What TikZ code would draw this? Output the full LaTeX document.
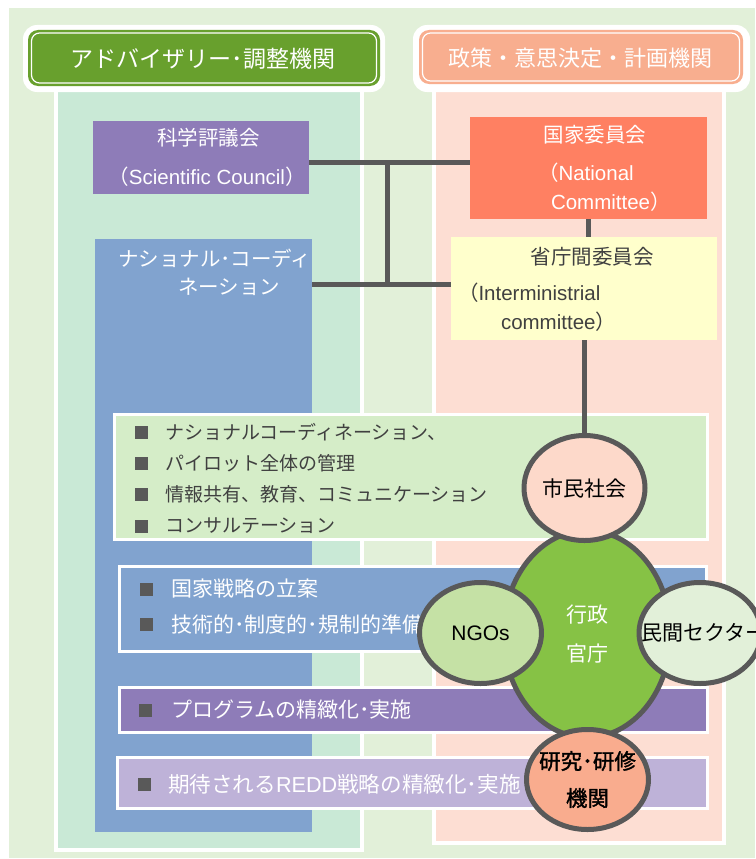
\documentclass[tikz,border=0pt]{standalone}
\usepackage{fontspec}
\setmainfont{Noto Sans CJK JP}
\newfontfamily\lat{Liberation Sans}
\newfontfamily\jpbold[FakeBold=1.5]{Noto Sans CJK JP}
\usetikzlibrary{shapes.geometric}
\definecolor{bggreen}{HTML}{E2F0D9}
\definecolor{tealcol}{HTML}{C9E9D6}
\definecolor{pinkcol}{HTML}{FDDED3}
\definecolor{hdrgreen}{HTML}{68A02D}
\definecolor{hdrsalmon}{HTML}{F8AE8F}
\definecolor{purp}{HTML}{8E7CB8}
\definecolor{blu}{HTML}{81A3CF}
\definecolor{coral}{HTML}{FF8062}
\definecolor{yelw}{HTML}{FFFFCC}
\definecolor{bonegreen}{HTML}{D5EDC8}
\definecolor{lav}{HTML}{BEB2D8}
\definecolor{govgreen}{HTML}{86C245}
\definecolor{ngogreen}{HTML}{C5E1A5}
\definecolor{privgreen}{HTML}{E2F0D9}
\definecolor{civpink}{HTML}{FDD9CA}
\definecolor{ressalmon}{HTML}{F9AC8E}
\definecolor{linegray}{HTML}{595959}
\definecolor{txtgray}{HTML}{404040}
\begin{document}
\begin{tikzpicture}[x=1pt,y=-1pt,
  every node/.style={inner sep=0pt,outer sep=0pt},
  colbox/.style={draw=white,line width=4pt,rectangle},
  plainbox/.style={rectangle},
  bulbox/.style={draw=white,line width=3pt,rectangle},
  bul/.style={fill=linegray,minimum size=13pt},
  conn/.style={draw=linegray,line width=5pt},
  orb/.style={ellipse,draw=linegray,line width=5pt},
  hdtxt/.style={text=white,font=\fontsize{23}{23}\selectfont},
  tt/.style={font=\fontsize{20.5}{20.5}\selectfont},
  bt/.style={font=\fontsize{21}{21}\selectfont,anchor=west},
  bts/.style={font=\fontsize{19}{19}\selectfont,anchor=west},
  ct/.style={font=\fontsize{21}{39}\selectfont,align=center}]
\useasboundingbox (0,0) rectangle (755,859);
\fill[white] (0,0) rectangle (755,859);
\fill[bggreen] (9,8) rectangle (755,858);
% columns
\node[colbox,fill=tealcol,minimum width=306pt,minimum height=760pt] (lcol) at (209,470) {};
\node[colbox,fill=pinkcol,minimum width=290pt,minimum height=753pt] (rcol) at (579,466.5) {};
% headers
\node[fill=white,rounded corners=14pt,minimum width=362pt,minimum height=67pt] (lhw) at (204,58.5) {};
\node[fill=hdrgreen,rounded corners=10pt,minimum width=352pt,minimum height=56pt] (lhg) at (204,58) {};
\node[draw=white,line width=1.2pt,rounded corners=8pt,minimum width=345pt,minimum height=50pt] (lhl) at (204,58) {};
\node[hdtxt] (lht) at (203,59) {アドバイザリー･調整機関};
\node[fill=white,rounded corners=14pt,minimum width=337pt,minimum height=67pt] (rhw) at (581.5,58.5) {};
\node[fill=hdrsalmon,rounded corners=10pt,minimum width=324pt,minimum height=54pt] (rhg) at (581,57) {};
\node[draw=white,line width=1.2pt,rounded corners=8pt,minimum width=317pt,minimum height=48pt] (rhl) at (581,57) {};
\node[hdtxt,font=\fontsize{22}{22}\selectfont] (rht) at (580,58) {政策・意思決定・計画機関};
% main boxes
\node[plainbox,fill=purp,minimum width=216pt,minimum height=73pt] (sci) at (201,157.5) {};
\node[plainbox,fill=blu,minimum width=217pt,minimum height=593pt] (ncb) at (203.5,535.5) {};
\node[plainbox,fill=coral,minimum width=237pt,minimum height=102pt] (nc) at (588.5,168) {};
\node[plainbox,fill=yelw,minimum width=266pt,minimum height=103pt] (yel) at (584,288.5) {};
\node[tt,text=white] (scit1) at (208.5,138) {科学評議会};
\node[tt,text=white] (scit2) at (207,177) {（{\lat Scientific Council}）};
\node[tt,text=white,anchor=west] (ncbt1) at (118,259) {ナショナル･コーディ};
\node[tt,text=white,anchor=west] (ncbt2) at (178,287) {ネーション};
\node[tt,text=white] (nct1) at (595,135) {国家委員会};
\node[tt,text=white,anchor=west] (nct2) at (538,173) {（{\lat National}};
\node[tt,text=white,anchor=west] (nct3) at (551,202) {{\lat Committee}）};
\node[tt,text=txtgray] (yelt1) at (592,257) {省庁間委員会};
\node[tt,text=txtgray,anchor=west] (yelt2) at (458,293) {（{\lat Interministrial}};
\node[tt,text=txtgray,anchor=west] (yelt3) at (501,322) {{\lat committee}）};
% connectors
\coordinate (j1) at (387,162);
\coordinate (j2) at (387,284);
\draw[conn] (sci.east |- j1) -- (nc.west |- j1);
\draw[conn] (j1) -- (j2);
\draw[conn] (ncb.east |- j2) -- (yel.west |- j2);
\draw[conn] (nc.south) -- (nc.south |- yel.north);
% bullet boxes
\node[bulbox,fill=bonegreen,minimum width=593pt,minimum height=125pt] (b1) at (411,477) {};
\node[bulbox,fill=blu,minimum width=587pt,minimum height=85pt] (b2) at (413,609) {};
\node[bulbox,fill=purp,minimum width=588pt,minimum height=45pt] (b3) at (413.5,710) {};
\node[bulbox,fill=lav,minimum width=590pt,minimum height=51pt] (b4) at (412.5,783) {};
\node[bul] (q1) at (141,432) {};
\node[bul] (q2) at (141,463) {};
\node[bul] (q3) at (141,494.5) {};
\node[bul] (q4) at (141,526) {};
\node[bts,text=txtgray] (t1) at (165,432) {ナショナルコーディネーション、};
\node[bts,text=txtgray] (t2) at (165,463) {パイロット全体の管理};
\node[bts,text=txtgray] (t3) at (165,494.5) {情報共有、教育、コミュニケーション};
\node[bts,text=txtgray] (t4) at (165,526) {コンサルテーション};
\node[bul] (q5) at (146.5,589) {};
\node[bul] (q6) at (146.5,624) {};
\node[bt,text=white] (t5) at (171,589) {国家戦略の立案};
\node[bt,text=white] (t6) at (171,624) {技術的･制度的･規制的準備};
\node[bul] (q7) at (145.5,710) {};
\node[bt,text=white] (t7) at (171,710) {プログラムの精緻化･実施};
\node[bul] (q8) at (144,784) {};
\node[bt,text=white,font=\fontsize{21.6}{21.6}\selectfont] (t8) at (168,784) {期待される{\lat REDD}戦略の精緻化･実施};
\draw[conn] (yel.south) -- ++(0,93) coordinate (civtop);
% circles
\node[orb,fill=govgreen,minimum width=167pt,minimum height=207pt] (gov) at (587,634) {};
\node[orb,fill=civpink,minimum width=121pt,minimum height=105pt] (civ) at (584.5,488) {};
\node[orb,fill=ngogreen,minimum width=122pt,minimum height=101pt] (ngo) at (480.5,633) {};
\node[orb,fill=privgreen,minimum width=122pt,minimum height=101pt] (priv) at (700,633) {};
\node[orb,fill=ressalmon,minimum width=122pt,minimum height=100pt] (res) at (587.5,779.5) {};
\node[ct,text=black] (civt) at (civ) {市民社会};
\node[ct,text=black] (ngot) at (ngo) {\lat NGOs};
\node[ct,text=black] (privt) at ([xshift=4pt]priv.center) {民間セクター};
\node[ct,text=white] (govt) at (gov) {行政\\官庁};
\node[ct,text=black,font=\jpbold\fontsize{21.5}{37}\selectfont] (rest) at (res) {研究･研修\\機関};
\end{tikzpicture}
\end{document}
